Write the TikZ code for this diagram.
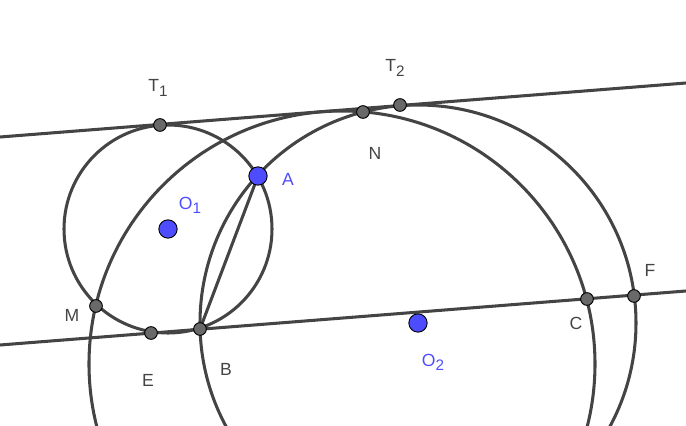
\documentclass[tikz,border=0pt]{standalone}
\usepackage{fontspec}
\setmainfont{Liberation Sans}
\usetikzlibrary{positioning}
\definecolor{geoline}{HTML}{444444}
\definecolor{geoblue}{HTML}{4D4DFF}
\newcommand{\geosub}[1]{\raisebox{-0.45ex}{\fontsize{13}{15}\selectfont #1}}
\begin{document}
\begin{tikzpicture}[x=0.03cm, y=-0.03cm,
  curve/.style={draw=geoline, line width=2.6pt},
  pt/.style={circle, draw=black, fill=geoline!80, line width=0.8pt, inner sep=0pt, minimum size=0.38cm},
  bpt/.style={circle, draw=black, fill=geoblue, line width=0.8pt, inner sep=0pt, minimum size=0.55cm},
  lbl/.style={font=\fontsize{15}{17}\selectfont, text=geoline},
  blbl/.style={font=\fontsize{15}{17}\selectfont, text=geoblue}
]
  \useasboundingbox (0,0) rectangle (686,426);
  \clip (0,0) rectangle (686,426);

  % Lines and circles
  \coordinate (tl) at (0,137);
  \coordinate (tr) at (686,83);
  \coordinate (bl) at (0,345);
  \coordinate (br) at (686,291);
  \draw[curve] (tl) -- (tr);
  \draw[curve] (bl) -- (br);
  \draw[curve] (168,229) circle[radius=104];
  \draw[curve] (418,323) circle[radius=218];
  \draw[curve] (342,364) circle[radius=253];
  \draw[curve] (258,176) -- (200,329);

  % Points
  \node[pt] (T1) at (160,125) {};
  \node[pt] (T2) at (400,105) {};
  \node[pt] (N) at (363,112) {};
  \node[pt] (M) at (96,306) {};
  \node[pt] (E) at (151,333) {};
  \node[pt] (B) at (200,329) {};
  \node[pt] (C) at (587,299) {};
  \node[pt] (F) at (634,296) {};
  \node[bpt] (A) at (258,176) {};
  \node[bpt] (O1) at (168,229) {};
  \node[bpt] (O2) at (418,323) {};

  % Labels
  \node[lbl] at (158,88) {T\geosub{1}};
  \node[lbl] at (395,68) {T\geosub{2}};
  \node[lbl] at (375,153) {N};
  \node[lbl] at (72,315) {M};
  \node[lbl] at (148,380) {E};
  \node[lbl] at (226,369) {B};
  \node[lbl] at (576,323) {C};
  \node[lbl] at (650,270) {F};
  \node[blbl] at (288,179) {A};
  \node[blbl] at (190,205) {O\geosub{1}};
  \node[blbl] at (433,362) {O\geosub{2}};
\end{tikzpicture}
\end{document}
